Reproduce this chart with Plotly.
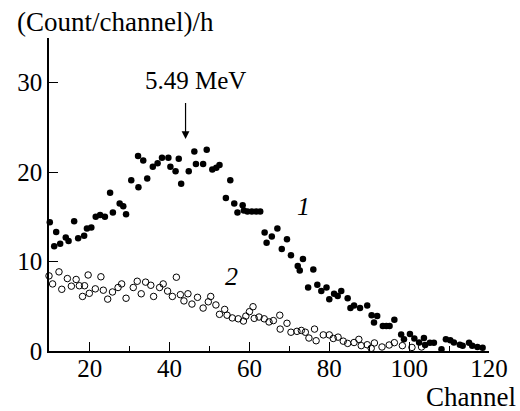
import plotly.graph_objects as go

# Series 1 (filled circles)
ch1 = [10.0, 11.1, 11.6, 12.6, 14.0, 14.7, 16.1, 17.1, 18.6, 19.3, 20.4, 21.5, 22.6, 23.8,
       25.1, 25.8, 27.5, 28.4, 29.1, 30.4, 32.1, 32.2, 33.4, 34.4, 35.8, 37.0, 38.1, 39.7,
       40.2, 41.5, 42.3, 42.9, 44.8, 46.2, 46.6, 48.4, 49.3, 50.7, 51.7, 52.5, 54.1, 55.2,
       56.2, 57.0, 58.3, 58.6, 59.5, 60.6, 61.7, 62.7, 63.8, 64.3, 65.6, 67.0, 68.1, 69.4,
       70.4, 72.1, 72.6, 73.4, 74.7, 76.0, 77.0, 78.0, 79.3, 80.0, 81.2, 82.1, 83.0, 84.6,
       85.3, 86.2, 87.7, 89.5, 90.6, 91.2, 92.0, 93.4, 94.3, 95.1, 96.3, 98.0, 98.7, 100.2,
       101.3, 102.5, 103.7, 104.0, 105.2, 106.2, 108.1, 109.2, 110.3, 111.2, 112.7, 113.4,
       115.0, 115.8, 117.1, 118.4]
val1 = [14.4, 11.7, 13.3, 12.0, 12.7, 12.3, 14.5, 12.6, 12.9, 13.7, 13.8, 15.0, 15.2, 15.0,
        17.7, 15.5, 16.5, 16.2, 15.3, 19.1, 21.8, 18.3, 21.3, 19.3, 20.6, 21.0, 21.6, 21.6,
        20.6, 20.1, 21.5, 18.7, 20.1, 22.3, 20.9, 20.9, 22.5, 20.3, 20.5, 20.8, 17.1, 19.1,
        16.5, 15.5, 16.3, 15.7, 15.6, 15.6, 15.6, 15.6, 13.25, 12.1, 12.8, 13.7, 11.4, 12.5,
        10.7, 9.5, 9.0, 10.3, 7.1, 9.1, 7.4, 6.7, 7.1, 5.8, 6.4, 6.15, 6.7, 5.9,
        4.8, 5.1, 4.8, 5.1, 4.0, 3.2, 3.9, 2.8, 2.8, 2.8, 3.5, 1.85, 1.3, 1.9,
        1.4, 0.95, 1.45, 0.67, 0.93, 0.93, 0.2, 1.3, 1.2, 0.95, 0.7, 0.6,
        0.93, 0.6, 0.45, 0.35]

# Series 2 (open circles)
ch2 = [9.8, 10.7, 12.3, 13.0, 14.4, 15.4, 16.6, 17.4, 18.2, 18.7, 19.6, 19.9, 21.4, 22.8,
       23.4, 24.5, 25.7, 27.1, 28.0, 29.1, 30.9, 31.9, 32.9, 34.0, 35.3, 36.0, 37.5, 38.4,
       39.5, 40.7, 41.7, 42.7, 43.6, 44.6, 45.6, 47.0, 48.4, 49.7, 50.3, 51.6, 52.5, 53.8,
       54.4, 55.7, 57.2, 58.5, 59.1, 60.0, 60.9, 61.2, 62.4, 63.7, 64.9, 66.0, 67.6, 67.7,
       69.4, 70.4, 71.9, 73.0, 74.0, 74.9, 76.3, 76.7, 78.5, 80.0, 81.0, 82.2, 83.5, 84.6,
       86.2, 87.4, 88.0, 89.5, 90.5, 91.3, 93.2, 95.0, 96.3, 98.3, 100.7, 103.1]
val2 = [8.4, 7.5, 8.85, 6.9, 8.1, 7.25, 8.0, 7.3, 6.1, 7.3, 8.5, 6.45, 6.95, 8.3,
        6.8, 5.8, 6.6, 7.1, 7.5, 5.9, 7.1, 7.8, 6.4, 7.7, 7.35, 6.1, 7.1, 7.5,
        6.7, 6.1, 8.25, 6.3, 5.6, 6.4, 5.25, 6.0, 4.8, 5.5, 6.1, 5.15, 4.1, 4.65,
        4.0, 3.7, 3.6, 3.35, 3.9, 4.4, 4.95, 3.65, 3.8, 3.6, 3.25, 3.4, 4.0, 2.45,
        3.1, 2.1, 2.2, 2.3, 2.1, 1.45, 2.45, 1.15, 1.8, 1.8, 1.4, 1.55, 1.1, 0.85,
        0.95, 1.3, 0.6, 0.7, 0.3, 0.9, 0.45, 0.67, 0.93, 0.6, 0.4, 0.45]

x_ticks = [20, 40, 60, 80, 100, 120]
x_minor = [30, 50, 70, 90, 110]
y_ticks = [0, 10, 20, 30]

FONT = "Liberation Serif"

fig = go.Figure()
fig.add_trace(go.Scatter(x=ch1, y=val1, mode="markers", cliponaxis=False,
                         marker=dict(symbol="circle", size=6.5, color="black"),
                         showlegend=False))
fig.add_trace(go.Scatter(x=ch2, y=val2, mode="markers", cliponaxis=False,
                         marker=dict(symbol="circle-open", size=6.5, color="black",
                                     line=dict(width=1, color="black")),
                         showlegend=False))

fig.update_layout(
    width=520, height=411,
    margin=dict(l=49, r=23, t=38, b=60),
    paper_bgcolor="white", plot_bgcolor="white",
    font=dict(family=FONT, size=25, color="black"),
    xaxis=dict(range=[9.8, 120], showgrid=False, zeroline=False, showline=True,
               linecolor="black", linewidth=1.5, ticks="inside", ticklen=9,
               tickwidth=1.2, tickcolor="black", tickvals=x_ticks,
               ticktext=[str(v) for v in x_ticks], ticklabelstandoff=-6,
               minor=dict(ticks="inside", ticklen=5, tickwidth=1.2, tickcolor="black",
                          tickvals=x_minor),
               tickfont=dict(family=FONT, size=25, color="black")),
    yaxis=dict(range=[0, 35], showgrid=False, zeroline=False, showline=True,
               linecolor="black", linewidth=1.5, ticks="inside", ticklen=9,
               tickwidth=1.2, tickcolor="black", tickvals=y_ticks,
               ticktext=[str(v) for v in y_ticks],
               tickfont=dict(family=FONT, size=25, color="black")),
)

fig.add_annotation(x=-0.078, y=1.0, xref="paper", yref="paper", xanchor="left", yanchor="middle",
                   yshift=16, text="(Count/channel)/h", showarrow=False,
                   font=dict(family=FONT, size=27, color="black"))
fig.add_annotation(x=1.0, y=0, xref="paper", yref="paper", xanchor="right", yanchor="middle",
                   xshift=29, yshift=-46, text="Channel", showarrow=False,
                   font=dict(family=FONT, size=27, color="black"))
# arrow marking 5.49 MeV
fig.add_annotation(x=44.0, y=23.7, ax=44.0, ay=27.9, xref="x", yref="y", axref="x", ayref="y",
                   text="", showarrow=True, arrowhead=2, arrowsize=1.3, arrowwidth=1.2,
                   arrowcolor="black")
fig.add_annotation(x=46.4, y=30.2, xref="x", yref="y", text="5.49 MeV", showarrow=False,
                   font=dict(family=FONT, size=25, color="black"))
fig.add_annotation(x=73.5, y=16.2, xref="x", yref="y", text="<i>1</i>", showarrow=False,
                   font=dict(family=FONT, size=26, color="black"))
fig.add_annotation(x=55.4, y=8.3, xref="x", yref="y", text="<i>2</i>", showarrow=False,
                   font=dict(family=FONT, size=26, color="black"))

fig.write_html("out.html")
